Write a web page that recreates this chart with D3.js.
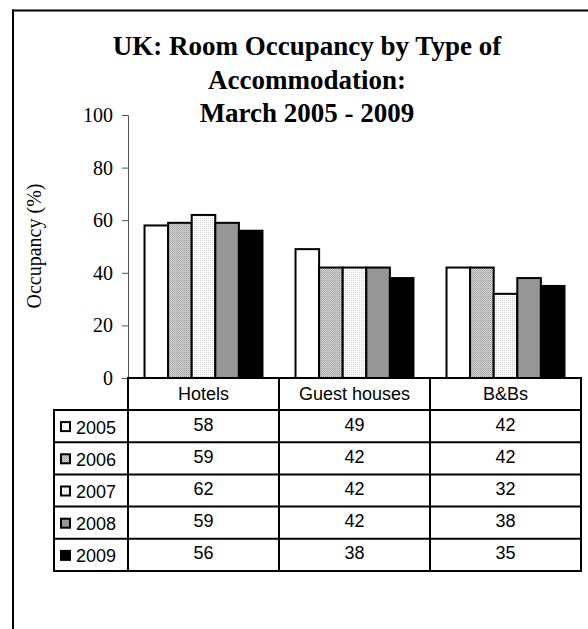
<!DOCTYPE html>
<html>
<head>
<meta charset="utf-8">
<script src="https://cdn.jsdelivr.net/npm/d3@7"></script>
<style>
html, body { margin: 0; background: #fff; overflow: hidden; }
svg { display: block; }
</style>
</head>
<body>
<script>
// data
var categories = ["Hotels", "Guest houses", "B&Bs"];
var years = ["2005", "2006", "2007", "2008", "2009"];
var v2005 = [58, 49, 42];
var v2006 = [59, 42, 42];
var v2007 = [62, 42, 32];
var v2008 = [59, 42, 38];
var v2009 = [56, 38, 35];
var yTicks = [0, 20, 40, 60, 80, 100];
var titleLines = ["UK: Room Occupancy by Type of", "Accommodation:", "March 2005 - 2009"];

var series = [v2005, v2006, v2007, v2008, v2009];
var fills = ["#fff", "url(#pat2006)", "url(#pat2007)", "#969696", "#000"];

var w = 588, h = 629;
var svg = d3.select("body").append("svg")
  .attr("width", w)
  .attr("height", h)
  .style("overflow", "hidden");

// patterns for the dotted bars
var defs = svg.append("defs");
var p1 = defs.append("pattern").attr("id", "pat2006")
  .attr("width", 2).attr("height", 2).attr("patternUnits", "userSpaceOnUse");
p1.append("rect").attr("width", 2).attr("height", 2).attr("fill", "#d8d8d8");
p1.append("rect").attr("width", 1).attr("height", 1).attr("fill", "#9a9a9a");
p1.append("rect").attr("x", 1).attr("y", 1).attr("width", 1).attr("height", 1).attr("fill", "#b0b0b0");
var p2 = defs.append("pattern").attr("id", "pat2007")
  .attr("width", 2).attr("height", 2).attr("patternUnits", "userSpaceOnUse");
p2.append("rect").attr("width", 2).attr("height", 2).attr("fill", "#fff");
p2.append("rect").attr("width", 1).attr("height", 1).attr("fill", "#d0d0d0");

// outer frame: only left and top edges are in the picture
svg.append("line")
  .attr("x1", 13).attr("x2", 13)
  .attr("y1", 9.5).attr("y2", h)
  .attr("stroke", "#000")
  .attr("stroke-width", 2);
svg.append("line")
  .attr("x1", 12).attr("x2", w)
  .attr("y1", 10.5).attr("y2", 10.5)
  .attr("stroke", "#000")
  .attr("stroke-width", 2);

// title
var serif = "'Liberation Serif', 'Times New Roman', serif";
svg.append("g").selectAll("text")
  .data(titleLines)
  .enter()
  .append("text")
  .attr("x", 307)
  .attr("y", function(d, i) { return 55 + i * 33.5; })
  .attr("text-anchor", "middle")
  .attr("font-family", serif)
  .attr("font-weight", "bold")
  .attr("font-size", "27px")
  .text(function(d) { return d; });

var x0 = d3.scaleBand().domain(categories).range([128, 581]);
var x1 = d3.scaleBand().domain(years).range([0, x0.bandwidth()]).paddingOuter(0.7).paddingInner(0);
var y = d3.scaleLinear().domain([0, 100]).range([378, 115]);

// y axis
var yAxis = svg.append("g")
  .attr("transform", "translate(128,0)")
  .call(d3.axisLeft(y).tickValues(yTicks).tickSize(6).tickPadding(9));
yAxis.select(".domain").attr("stroke", "#555");
yAxis.selectAll(".tick line").attr("stroke", "#555");
yAxis.selectAll("text")
  .attr("font-family", serif)
  .attr("font-size", "20px")
  .attr("fill", "#000");

svg.append("text")
  .attr("transform", "translate(41,246) rotate(-90)")
  .attr("text-anchor", "middle")
  .attr("font-family", serif)
  .attr("font-size", "20px")
  .text("Occupancy (%)");

// bars
var groups = svg.append("g").selectAll("g")
  .data(categories)
  .enter()
  .append("g")
  .attr("transform", function(d) { return "translate(" + x0(d) + ",0)"; });

groups.selectAll("rect")
  .data(function(d, ci) { return series.map(function(s, si) { return { year: years[si], v: s[ci], si: si }; }); })
  .enter()
  .append("rect")
  .attr("x", function(d) { return x1(d.year); })
  .attr("y", function(d) { return y(d.v); })
  .attr("width", x1.bandwidth())
  .attr("height", function(d) { return y(0) - y(d.v); })
  .attr("fill", function(d) { return fills[d.si]; })
  .attr("stroke", "#000")
  .attr("stroke-width", 2);

// data table
var tableLeft = 54, rowTop = 410, rowH = 32.2, headTop = 378;
var tbl = svg.append("g");
var font = "'Liberation Sans', Arial, sans-serif";

// header row
tbl.append("rect")
  .attr("x", 128).attr("y", headTop)
  .attr("width", 581 - 128).attr("height", rowTop - headTop)
  .attr("fill", "none").attr("stroke", "#000").attr("stroke-width", 2);
tbl.selectAll(".head")
  .data(categories)
  .enter()
  .append("text")
  .attr("x", function(d) { return x0(d) + x0.bandwidth() / 2; })
  .attr("y", headTop + 22)
  .attr("text-anchor", "middle")
  .attr("font-family", font)
  .attr("font-size", "18px")
  .text(function(d) { return d; });

// column separators in header
tbl.selectAll(".hsep")
  .data(categories.slice(1))
  .enter()
  .append("line")
  .attr("x1", function(d) { return x0(d); })
  .attr("x2", function(d) { return x0(d); })
  .attr("y1", headTop).attr("y2", rowTop)
  .attr("stroke", "#000").attr("stroke-width", 2);

// body
tbl.append("rect")
  .attr("x", tableLeft).attr("y", rowTop)
  .attr("width", 581 - tableLeft).attr("height", rowH * years.length)
  .attr("fill", "none").attr("stroke", "#000").attr("stroke-width", 2);

tbl.selectAll(".rowline")
  .data(years.slice(1))
  .enter()
  .append("line")
  .attr("x1", tableLeft).attr("x2", 581)
  .attr("y1", function(d, i) { return rowTop + (i + 1) * rowH; })
  .attr("y2", function(d, i) { return rowTop + (i + 1) * rowH; })
  .attr("stroke", "#000").attr("stroke-width", 2);

tbl.selectAll(".colline")
  .data(categories)
  .enter()
  .append("line")
  .attr("x1", function(d) { return x0(d); })
  .attr("x2", function(d) { return x0(d); })
  .attr("y1", rowTop).attr("y2", rowTop + rowH * years.length)
  .attr("stroke", "#000").attr("stroke-width", 2);

var rows = tbl.selectAll(".row")
  .data(years)
  .enter()
  .append("g")
  .attr("transform", function(d, i) { return "translate(0," + (rowTop + i * rowH) + ")"; });

rows.append("rect")
  .attr("x", 61).attr("y", rowH / 2 - 4)
  .attr("width", 9).attr("height", 9)
  .attr("fill", function(d, i) { return fills[i]; })
  .attr("stroke", "#000").attr("stroke-width", 2);

rows.append("text")
  .attr("x", 76)
  .attr("y", rowH / 2 + 7.5)
  .attr("font-family", font)
  .attr("font-size", "18px")
  .text(function(d) { return d; });

rows.selectAll(".val")
  .data(function(d, i) { return series[i]; })
  .enter()
  .append("text")
  .attr("x", function(d, ci) { return x0(categories[ci]) + x0.bandwidth() / 2; })
  .attr("y", rowH / 2 + 4.5)
  .attr("text-anchor", "middle")
  .attr("font-family", font)
  .attr("font-size", "18px")
  .text(function(d) { return d; });
</script>
</body>
</html>
